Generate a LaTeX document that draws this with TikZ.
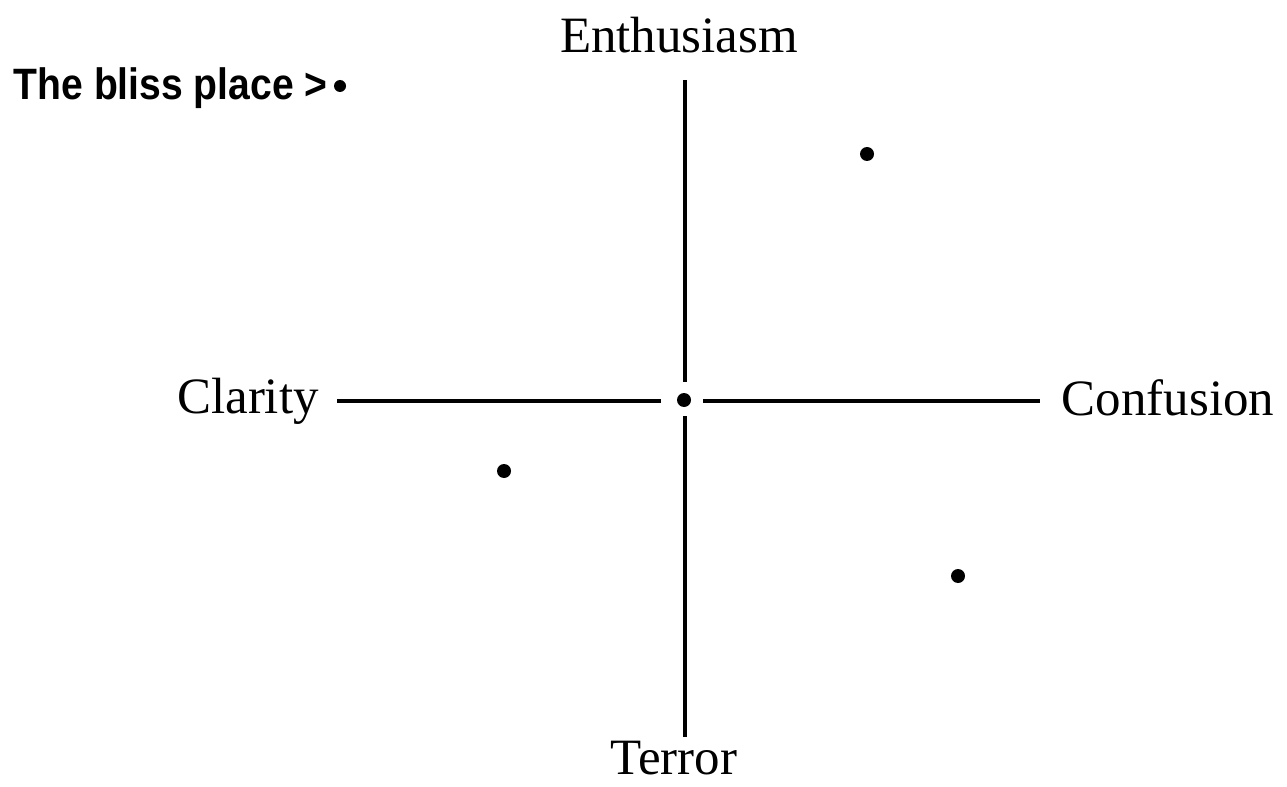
\documentclass[tikz,border=0pt]{standalone}
\usepackage{fontspec}
\setmainfont{Liberation Serif}
\newfontfamily\blissfont[FakeStretch=0.89]{Liberation Sans}
\usepackage{tikz}
\usetikzlibrary{positioning}

\begin{document}
\begin{tikzpicture}[x=0.02cm,y=-0.02cm,
  axislabel/.style={font=\fontsize{29}{32}\selectfont,inner sep=0pt,anchor=base},
  blisslabel/.style={font=\blissfont\bfseries\fontsize{25}{28}\selectfont,inner sep=0pt,anchor=base east},
  spot/.style={circle,fill=black,inner sep=0pt,minimum size=0.28cm},
  axisline/.style={line width=2pt}]
\useasboundingbox (0,0) rectangle (1287,787);
% axis labels
\node[axislabel] (enth) at (679,53) {Enthusiasm};
\node[axislabel] (terror) at (674,774) {Terror};
\node[axislabel] (clarity) at (248,413) {Clarity};
\node[axislabel] (confusion) at (1168,415) {Confusion};
% axes, with a gap round the middle
\coordinate (vtop) at (685,80);
\coordinate (vup) at (685,382);
\coordinate (vdown) at (685,416);
\coordinate (vbot) at (685,737);
\coordinate (hleft) at (337,401);
\coordinate (hin) at (661,401);
\coordinate (hout) at (703,401);
\coordinate (hright) at (1040,401);
\draw[axisline] (vtop) -- (vup);
\draw[axisline] (vdown) -- (vbot);
\draw[axisline] (hleft) -- (hin);
\draw[axisline] (hout) -- (hright);
% points
\node[spot] (middle) at (684,400) {};
\node[spot] (upright) at (867,154) {};
\node[spot] (lowleft) at (504,471) {};
\node[spot] (lowright) at (958,576) {};
\node[spot,minimum size=0.24cm] (bliss) at (340,86) {};
\node[blisslabel] (blisstext) at (328,100) {The bliss place >};
\end{tikzpicture}
\end{document}
